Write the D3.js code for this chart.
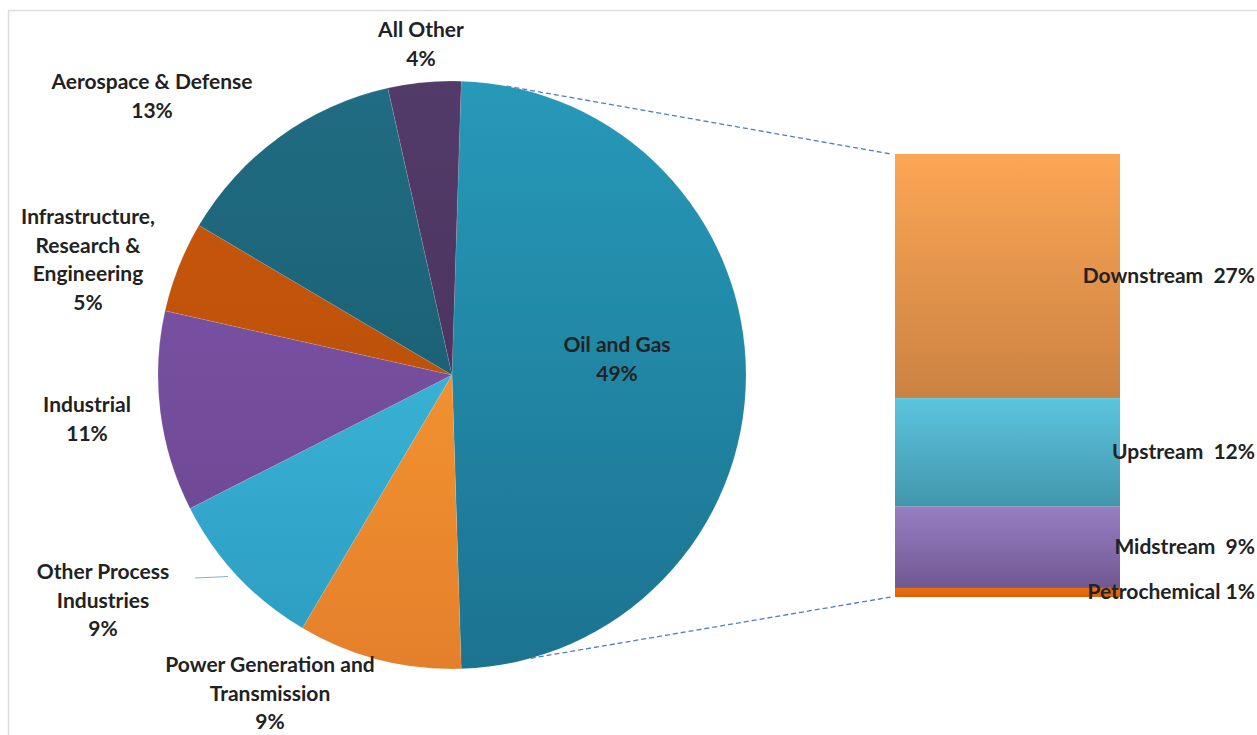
<!DOCTYPE html>
<html>
<head>
<meta charset="utf-8">
<script src="https://cdn.jsdelivr.net/npm/d3@7"></script>
<style>
  html, body { margin: 0; padding: 0; background: #ffffff; }
  svg { display: block; }
  text { font-family: Lato, "Open Sans", sans-serif; font-weight: 700; fill: #222222; }
</style>
</head>
<body>
<svg id="chart" width="1257" height="735"></svg>
<script>
// ---------- data ----------
const categories = ["Oil and Gas", "Power Generation and Transmission", "Other Process Industries",
                    "Industrial", "Infrastructure, Research & Engineering", "Aerospace & Defense", "All Other"];
const values = [49, 9, 9, 11, 5, 13, 4];
const labelLines = [
  ["Oil and Gas", "49%"],
  ["Power Generation and", "Transmission", "9%"],
  ["Other Process", "Industries", "9%"],
  ["Industrial", "11%"],
  ["Infrastructure,", "Research &", "Engineering", "5%"],
  ["Aerospace & Defense", "13%"],
  ["All Other", "4%"]
];
const subCategories = ["Downstream", "Upstream", "Midstream", "Petrochemical"];
const subValues = [27, 12, 9, 1];
const subLabels = ["Downstream  27%", "Upstream  12%", "Midstream  9%", "Petrochemical 1%"];

// ---------- styles / layout ----------
const pieColors = [
  ["#2799B9", "#1B7390"],
  ["#FFA236", "#E4802B"],
  ["#44C6EA", "#2C9CC0"],
  ["#7F57AD", "#6A448E"],
  ["#CC580C", "#B04B09"],
  ["#206C82", "#18586B"],
  ["#523B68", "#452E58"]
];
const barColors = [
  ["#FBA654", "#CB8242"],
  ["#5CC5DF", "#4196AB"],
  ["#977EC3", "#715892"],
  ["#EC6F0C", "#D9620A"]
];
// label centres for outer labels (x, y of first line centre)
const labelPos = [
  null,
  [270, 665],
  [103, 572],
  [87, 405],
  [88, 217],
  [152, 82],
  [421, 30]
];
const fontSize = "21px";
const lineH = 28.5;
const cx = 452, cy = 375, R = 294;
const barX0 = 895, barX1 = 1120, barTop = 154, barBottom = 597;

const svg = d3.select("#chart");
const defs = svg.append("defs");

// frame
svg.append("path")
  .attr("d", `M8.5,735 L8.5,10.5 L1257,10.5`)
  .attr("fill", "none").attr("stroke", "#dcdcdc").attr("stroke-width", 1.5);

// ---------- pie ----------
const total = d3.sum(values);
const startOffset = Math.PI / 2 - values[0] / total * Math.PI; // centre the split slice on the right
const pie = d3.pie().sort(null).value(d => d)
  .startAngle(startOffset).endAngle(startOffset + 2 * Math.PI);
const arcs = pie(values);
const arc = d3.arc().innerRadius(0).outerRadius(R);

pieColors.forEach((c, i) => {
  const g = defs.append("linearGradient").attr("id", "pg" + i)
    .attr("gradientUnits", "userSpaceOnUse")
    .attr("x1", 0).attr("y1", -R).attr("x2", 0).attr("y2", R);
  g.append("stop").attr("offset", "0%").attr("stop-color", c[0]);
  g.append("stop").attr("offset", "100%").attr("stop-color", c[1]);
});

// connector lines (drawn first, behind pie)
const yBar = d3.scaleLinear().domain([0, d3.sum(subValues)]).range([barTop, barBottom]);
const a0 = arcs[0];
const topAng = a0.startAngle + 0.155, botAng = a0.endAngle - 0.24;
svg.append("line")
  .attr("x1", cx + R * Math.sin(topAng)).attr("y1", cy - R * Math.cos(topAng))
  .attr("x2", barX0 - 4).attr("y2", yBar(0))
  .attr("stroke", "#4F7FBF").attr("stroke-width", 1.3).attr("stroke-dasharray", "5,3");
svg.append("line")
  .attr("x1", cx + R * Math.sin(botAng)).attr("y1", cy - R * Math.cos(botAng))
  .attr("x2", barX0 - 4).attr("y2", yBar(d3.sum(subValues)))
  .attr("stroke", "#4F7FBF").attr("stroke-width", 1.3).attr("stroke-dasharray", "5,3");

const pg = svg.append("g").attr("transform", `translate(${cx},${cy})`);
pg.selectAll("path.slice").data(arcs).join("path")
  .attr("class", "slice")
  .attr("d", arc)
  .attr("fill", (d, i) => `url(#pg${i})`)
  .attr("stroke", "rgba(255,255,255,0.2)").attr("stroke-width", 0.5);

// Oil and Gas label (inside)
const inner = d3.arc().innerRadius(165).outerRadius(165);
const c0 = inner.centroid(arcs[0]);
const t0 = svg.append("text").attr("text-anchor", "middle").style("font-size", fontSize);
labelLines[0].forEach((ln, j) => {
  t0.append("tspan").attr("x", cx + c0[0])
    .attr("y", cy + c0[1] - 30 + j * lineH + 7).text(ln);
});

// outer labels
labelLines.forEach((lines, i) => {
  if (!labelPos[i]) return;
  const t = svg.append("text").attr("text-anchor", "middle").style("font-size", fontSize);
  lines.forEach((ln, j) => {
    t.append("tspan").attr("x", labelPos[i][0])
      .attr("y", labelPos[i][1] + j * lineH + 7).text(ln);
  });
});

// leader line for Other Process Industries
svg.append("line")
  .attr("x1", 195).attr("y1", 578).attr("x2", 228).attr("y2", 576.5)
  .attr("stroke", "#8FAECB").attr("stroke-width", 1.2);

// ---------- bar ----------
let acc = 0;
const segs = subValues.map((v, i) => { const s = { i, y0: acc, y1: acc + v }; acc += v; return s; });

barColors.forEach((c, i) => {
  const g = defs.append("linearGradient").attr("id", "bg" + i)
    .attr("x1", 0).attr("y1", 0).attr("x2", 0).attr("y2", 1);
  g.append("stop").attr("offset", "0%").attr("stop-color", c[0]);
  g.append("stop").attr("offset", "100%").attr("stop-color", c[1]);
});

svg.selectAll("rect.seg").data(segs).join("rect")
  .attr("class", "seg")
  .attr("x", barX0).attr("width", barX1 - barX0)
  .attr("y", d => yBar(d.y0)).attr("height", d => yBar(d.y1) - yBar(d.y0))
  .attr("fill", d => `url(#bg${d.i})`);

svg.selectAll("text.sub").data(segs).join("text")
  .attr("class", "sub")
  .attr("text-anchor", "end")
  .attr("xml:space", "preserve")
  .style("white-space", "pre")
  .style("font-size", fontSize)
  .attr("x", 1255)
  .attr("y", d => (yBar(d.y0) + yBar(d.y1)) / 2 + 7)
  .text(d => subLabels[d.i]);
</script>
</body>
</html>
